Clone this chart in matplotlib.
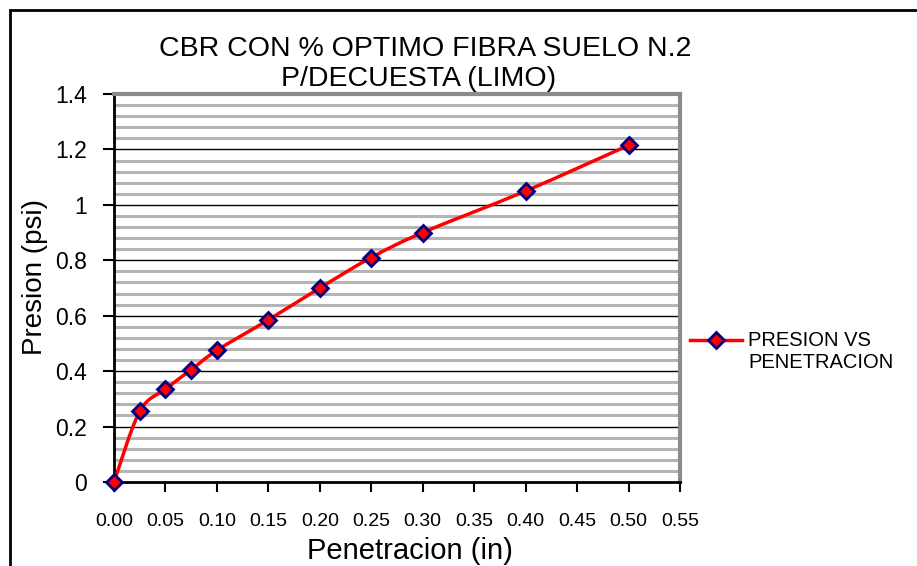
import matplotlib
matplotlib.use("Agg")
import matplotlib.pyplot as plt
from matplotlib.path import Path
from matplotlib.patches import PathPatch, Rectangle
from matplotlib.lines import Line2D
from matplotlib.legend_handler import HandlerLine2D
import numpy as np

plt.rcParams['font.family'] = ['Liberation Sans', 'DejaVu Sans']

# Data
penetracion = [0.0, 0.025, 0.05, 0.075, 0.10, 0.15, 0.20, 0.25, 0.30, 0.40, 0.50]
presion = [0.0, 0.255, 0.335, 0.405, 0.475, 0.585, 0.70, 0.81, 0.90, 1.05, 1.215]
series_label = "PRESION VS\nPENETRACION"
title_line1 = "CBR CON % OPTIMO FIBRA SUELO N.2"
title_line2 = "P/DECUESTA (LIMO)"
xlabel = "Penetracion (in)"
ylabel = "Presion (psi)"
xticks = [0.00, 0.05, 0.10, 0.15, 0.20, 0.25, 0.30, 0.35, 0.40, 0.45, 0.50, 0.55]
xticklabels = ["0.00", "0.05", "0.10", "0.15", "0.20", "0.25", "0.30", "0.35", "0.40", "0.45", "0.50", "0.55"]
yticks = [0, 0.2, 0.4, 0.6, 0.8, 1.0, 1.2, 1.4]
yticklabels = ["0", "0.2", "0.4", "0.6", "0.8", "1", "1.2", "1.4"]

W, H = 917, 566
fig = plt.figure(figsize=(W / 100, H / 100), dpi=100)
fig.patch.set_facecolor('white')

L, R, T, B = 114, 680, 94, 482
ax = fig.add_axes([L / W, 1 - B / H, (R - L) / W, (B - T) / H])
ax.set_xlim(0, 0.55)
ax.set_ylim(0, 1.4)

# striped background (minor lines)
for yv in np.arange(0.04, 1.4, 0.04):
    if abs(yv / 0.2 - round(yv / 0.2)) < 1e-6:
        continue
    ax.axhline(yv, color='#b4b4b4', lw=2.2, zorder=0)
for yv in yticks[1:-1]:
    ax.axhline(yv, color='black', lw=1.0, zorder=1)

# smoothed line (Catmull-Rom Bezier through data)
x = np.array(penetracion)
y = np.array(presion)
verts = [(x[0], y[0])]
codes = [Path.MOVETO]
n = len(x)
for i in range(n - 1):
    p0 = np.array([x[max(i - 1, 0)], y[max(i - 1, 0)]])
    p1 = np.array([x[i], y[i]])
    p2 = np.array([x[i + 1], y[i + 1]])
    p3 = np.array([x[min(i + 2, n - 1)], y[min(i + 2, n - 1)]])
    c1 = p1 + (p2 - p0) / 6
    c2 = p2 - (p3 - p1) / 6
    verts += [tuple(c1), tuple(c2), tuple(p2)]
    codes += [Path.CURVE4] * 3
ax.add_patch(PathPatch(Path(verts, codes), fill=False, edgecolor='#ff0000', lw=2.5, zorder=3, clip_on=False))
ax.plot(x, y, linestyle='none', marker='D', markersize=8, markerfacecolor='#ff0000',
        markeredgecolor='#000080', markeredgewidth=2, zorder=4, clip_on=False)


class ShiftHandler(HandlerLine2D):
    def create_artists(self, legend, orig_handle, xdescent, ydescent, width, height, fontsize, trans):
        arts = super().create_artists(legend, orig_handle, xdescent, ydescent, width, height,
                                      fontsize, trans)
        for a in arts:
            a.set_ydata(np.asarray(a.get_ydata(), dtype=float) + 9.0)
        return arts


# legend
proxy = Line2D([], [], color='#ff0000', lw=2.5, marker='D', markersize=8,
               markerfacecolor='#ff0000', markeredgecolor='#000080', markeredgewidth=2)
leg = fig.legend([proxy], [series_label], loc='center left', bbox_to_anchor=(690 / W, 1 - 352 / H),
                 frameon=False, fontsize=14.5, handlelength=2.6, handletextpad=0.3,
                 borderaxespad=0, borderpad=0, handler_map={Line2D: ShiftHandler()})

ax.set_xticks(xticks)
ax.set_xticklabels(xticklabels)
ax.set_yticks(yticks)
ax.set_yticklabels(yticklabels)
ax.tick_params(axis='x', direction='out', length=7, width=1.5, pad=15, labelsize=14)
ax.tick_params(axis='y', direction='out', length=8, width=1.5, pad=11.5, labelsize=16.5)

for s in ['left', 'bottom']:
    ax.spines[s].set_color('black')
    ax.spines[s].set_linewidth(2)
for s in ['top', 'right']:
    ax.spines[s].set_color('#8c8c8c')
    ax.spines[s].set_linewidth(3)

ax.set_facecolor('white')

fig.text(425 / W, 1 - 49 / H, title_line1, ha='center', va='center', fontsize=20.5)
fig.text(419 / W, 1 - 79 / H, title_line2, ha='center', va='center', fontsize=20.5)
fig.text(410 / W, 1 - 551 / H, xlabel, ha='center', va='center', fontsize=21)
fig.text(35 / W, 1 - 277 / H, ylabel, ha='center', va='center', fontsize=20, rotation=90)

# outer chart border
fig.patches.append(Rectangle((10 / W, -0.1), 1.2, 1 - 10 / H + 0.1, transform=fig.transFigure,
                             fill=False, edgecolor='black', lw=2, zorder=0))

fig.savefig('out.png', dpi=100)
